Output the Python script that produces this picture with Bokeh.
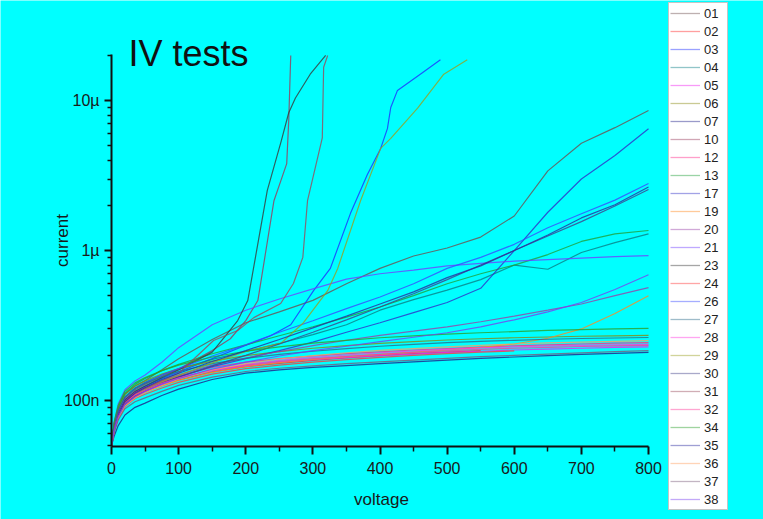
import math
from bokeh.plotting import figure
from bokeh.models import (Legend, LegendItem, Label, FixedTicker,
                          CustomJSTickFormatter, Range1d)
from bokeh.embed import file_html
from bokeh.resources import INLINE

nan = float("nan")

# ---------------- data (voltage in V, current in nA) ----------------
VOLTS = [0, 4, 10, 20, 35, 50, 75, 100, 150, 200, 250, 300, 350, 400, 450, 500, 550, 600, 650, 700, 750, 800]

i_01 = [50, 70, 90, 110, 125, 136, 160, 190, 255, 330, 390, 465, 600, 760, 920, 1040, 1230, 1700, 3400, 5200, 6600, 8600]
i_02 = [50, 64, 78, 94, 106, 114, 126, 137, 155, 168, 177, 185, 192, 199, 205, 210, 215, nan, nan, nan, nan, nan]
v_03 = [0, 4, 10, 20, 35, 50, 75, 100, 150, 207, 237, 267, 301, 326, 356, 381, 401, 411, 416, 426, 460, 490]
i_03 = [50, 65, 82, 100, 114, 124, 140, 155, 190, 240, 270, 320, 540, 760, 1770, 3200, 4800, 6500, 9000, 11700, 15000, 18700]
i_04 = [50, 68, 86, 106, 121, 132, 148, 162, 188, 212, 240, 275, 320, 400, 470, 545, 640, 800, 750, 970, 1130, 1290]
i_05 = [50, 67, 84, 102, 114, 122, 133, 143, 158, 170, 180, 187, 193, 199, 204, 209, 213, 217, 220, 223, 226, 228]
i_06 = [50, 70, 90, 110, 125, 135, 150, 163, 183, 199, 212, 223, 232, 240, 247, 253, 258, 262, 265, 268, 270, 272]
i_07 = [50, 58, 68, 80, 90, 96, 108, 119, 138, 152, 160, 166, 171, 176, 181, 186, 191, 195, 199, 203, 206, 209]
v_10 = [0, 4, 10, 20, 35, 50, 75, 100, 150, 177, 200, 218, 242, 261, 264, 267]
i_10 = [50, 68, 86, 104, 118, 128, 145, 162, 215, 258, 341, 464, 2150, 3800, 7360, 20000]
i_12 = [50, 66, 82, 99, 112, 121, 134, 146, 166, 180, 190, 198, 205, 211, 217, 222, 227, 231, 235, 238, 241, 243]
i_13 = [50, 70, 90, 112, 128, 140, 158, 174, 205, 235, 270, 310, 360, 420, 500, 600, 700, 800, 940, 1150, 1290, 1360]
i_17 = [50, 63, 78, 95, 108, 117, 131, 144, 168, 190, 215, 245, 285, 330, 385, 450, 560, 1000, 1800, 3000, 4300, 6500]
i_19 = [50, 63, 77, 93, 105, 113, 125, 136, 154, 168, 179, 188, 196, 203, 210, 217, 226, 238, 260, 300, 380, 500]
i_20 = [50, 66, 82, 99, 112, 121, 135, 148, 172, 192, 212, 232, 252, 272, 290, 310, 335, 365, 400, 440, 500, 566]
i_21 = [50, 72, 95, 118, 135, 148, 180, 225, 320, 400, 475, 555, 645, 700, 740, 790, 820, 850, 870, 890, 910, 926]
v_23 = [0, 4, 10, 20, 35, 50, 75, 100, 150, 170, 188, 203, 232, 253, 264, 274, 296, 319]
i_23 = [50, 66, 83, 101, 115, 125, 142, 160, 210, 271, 341, 464, 2510, 5410, 8300, 10400, 15000, 20000]
i_24 = [50, 63, 76, 91, 103, 110, 121, 132, 150, 163, 172, 180, 187, 194, 200, 205, 210, 214, nan, nan, nan, nan]
i_26 = [50, 66, 84, 104, 120, 131, 148, 163, 198, 235, 285, 340, 410, 490, 600, 760, 900, 1100, 1420, 1760, 2170, 2800]
i_27 = [50, 68, 86, 105, 120, 130, 144, 156, 176, 191, 203, 213, 222, 230, 237, 243, 248, 252, 256, 259, 261, 263]
i_28 = [50, 64, 79, 95, 107, 116, 129, 141, 160, 174, 185, 194, 201, 208, 214, 219, 224, 228, 231, 233, 235, 237]
v_29 = [0, 4, 10, 20, 35, 50, 75, 100, 150, 200, 252, 286, 322, 337, 371, 401, 416, 456, 495, 530]
i_29 = [50, 63, 79, 96, 109, 118, 133, 147, 178, 212, 240, 330, 540, 760, 2150, 4800, 5600, 8900, 15000, 18700]
i_30 = [50, 62, 77, 94, 107, 116, 130, 143, 170, 200, 238, 285, 345, 420, 515, 640, 800, 1000, 1250, 1560, 1980, 2550]
v_31 = [0, 4, 10, 20, 35, 50, 75, 100, 152, 188, 212, 252, 271, 285, 292, 314, 316, 322]
i_31 = [50, 64, 80, 97, 110, 120, 136, 152, 251, 293, 357, 443, 603, 900, 2150, 5640, 16700, 20000]
i_32 = [50, 65, 80, 97, 109, 117, 130, 141, 159, 172, 182, 190, 197, 203, 209, 214, 219, 223, 226, 229, 231, 233]
i_34 = [50, 72, 93, 115, 131, 142, 158, 172, 195, 213, 228, 241, 252, 262, 270, 277, 283, 288, 293, 297, 300, 303]
i_35 = [50, 64, 80, 98, 112, 122, 138, 152, 182, 215, 255, 305, 365, 440, 530, 660, 790, 1000, 1270, 1650, 2020, 2650]
i_36 = [50, 62, 76, 92, 104, 113, 126, 139, 160, 176, 189, 199, 208, 216, 222, 228, 233, 238, 242, 245, 248, 251]
i_37 = [50, 62, 74, 88, 98, 104, 115, 126, 143, 156, 164, 170, 176, 181, 186, 191, 196, 200, 204, 208, 212, 215]
i_38 = [50, 64, 78, 94, 106, 115, 128, 140, 162, 180, 198, 215, 230, 247, 264, 283, 310, 345, 390, 450, 550, 690]

LABELS = ["01", "02", "03", "04", "05", "06", "07", "10", "12", "13", "17", "19", "20", "21",
          "23", "24", "26", "27", "28", "29", "30", "31", "32", "34", "35", "36", "37", "38"]

SERIES = {
    "01": (VOLTS, i_01), "02": (VOLTS, i_02), "03": (v_03, i_03), "04": (VOLTS, i_04),
    "05": (VOLTS, i_05), "06": (VOLTS, i_06), "07": (VOLTS, i_07), "10": (v_10, i_10),
    "12": (VOLTS, i_12), "13": (VOLTS, i_13), "17": (VOLTS, i_17), "19": (VOLTS, i_19),
    "20": (VOLTS, i_20), "21": (VOLTS, i_21), "23": (v_23, i_23), "24": (VOLTS, i_24),
    "26": (VOLTS, i_26), "27": (VOLTS, i_27), "28": (VOLTS, i_28), "29": (v_29, i_29),
    "30": (VOLTS, i_30), "31": (v_31, i_31), "32": (VOLTS, i_32), "34": (VOLTS, i_34),
    "35": (VOLTS, i_35), "36": (VOLTS, i_36), "37": (VOLTS, i_37), "38": (VOLTS, i_38),
}

COLORS = {"01": "#6e5050", "02": "#ff2a2a", "03": "#1f2fff", "04": "#0a7f86", "05": "#f01ff0",
          "06": "#8a8a10", "07": "#20208a", "10": "#9a3a5a", "12": "#ff2a8a", "13": "#1fa03a",
          "17": "#3030c8", "19": "#ff8a1f", "20": "#9a40a8", "21": "#7040ff", "23": "#3a3a3a",
          "24": "#ff3a3a", "26": "#3a4aff", "27": "#2a6a8a", "28": "#ff3ae0", "29": "#9aa01f",
          "30": "#40408a", "31": "#9a4a5a", "32": "#ff3a9a", "34": "#2aa02a", "35": "#2a2aa0",
          "36": "#ffa060", "37": "#7a5a7a", "38": "#7a40f0"}

X_MAJOR = [0, 100, 200, 300, 400, 500, 600, 700, 800]
X_MINOR = [50, 150, 250, 350, 450, 550, 650, 750]
Y_MAJOR = [100, 1000, 10000]
Y_MINOR = [50, 60, 70, 80, 90, 200, 300, 400, 500, 600, 700, 800, 900,
           2000, 3000, 4000, 5000, 6000, 7000, 8000, 9000, 20000]
X_AXIS_SPAN = (0, 800)
Y_AXIS_SPAN = (49.3, 20300)

# ---------------- figure ----------------
FONT = "Liberation Sans"
CYAN = "#00ffff"
W, H = 763, 519

# The frame covers the whole canvas; the axes sit at fixed data locations
# (x axis from 111 to 648 px, y axis from 446 up to 54 px).
p = figure(width=W, height=H, y_axis_type="log",
           x_range=Range1d(-165.4, 971.3), y_range=Range1d(16.07, 46530),
           output_backend="svg", toolbar_location=None,
           min_border_left=0, min_border_right=0, min_border_top=0, min_border_bottom=0)
p.background_fill_color = CYAN
p.border_fill_color = CYAN
p.outline_line_color = None
p.xgrid.visible = False
p.ygrid.visible = False

renderers = {}
for lab in LABELS:
    v, i = SERIES[lab]
    renderers[lab] = p.line(v, i, line_color=COLORS[lab], line_alpha=0.8, line_width=1.2)

p.xaxis.fixed_location = Y_AXIS_SPAN[0]
p.yaxis.fixed_location = X_AXIS_SPAN[0]
p.xaxis.ticker = FixedTicker(ticks=X_MAJOR, minor_ticks=X_MINOR)
p.xaxis.bounds = X_AXIS_SPAN
p.yaxis.ticker = FixedTicker(ticks=Y_MAJOR, minor_ticks=Y_MINOR)
p.yaxis.bounds = Y_AXIS_SPAN
p.yaxis.formatter = CustomJSTickFormatter(
    code="const m = {100: '100n', 1000: '1\u00b5', 10000: '10\u00b5'}; return m[Math.round(tick)] || '';")

for ax in (p.xaxis, p.yaxis):
    ax.axis_line_width = 2
    ax.axis_line_color = "#111111"
    ax.major_tick_line_width = 2
    ax.minor_tick_line_width = 1.5
    ax.major_tick_line_color = "#111111"
    ax.minor_tick_line_color = "#111111"
    ax.major_tick_in = 0
    ax.minor_tick_in = 0
    ax.major_label_text_font = FONT
    ax.major_label_text_font_size = "16px"
    ax.major_label_text_color = "#1a1a1a"

p.xaxis.major_tick_out = 8
p.xaxis.minor_tick_out = 5
p.xaxis.major_label_standoff = 7
p.yaxis.major_tick_out = 7
p.yaxis.minor_tick_out = 4
p.yaxis.major_label_standoff = 5

# texts (screen units from the canvas bottom-left)
p.add_layout(Label(x=128, y=466, x_units="screen", y_units="screen", text="IV tests",
                   text_font=FONT, text_font_size="36px", text_color="#111111",
                   text_baseline="alphabetic", text_align="left"), "center")
p.add_layout(Label(x=62, y=279, x_units="screen", y_units="screen", text="current",
                   angle=math.pi / 2, text_font=FONT, text_font_size="17px", text_color="#1a1a1a",
                   text_baseline="middle", text_align="center"), "center")
p.add_layout(Label(x=381, y=20, x_units="screen", y_units="screen", text="voltage",
                   text_font=FONT, text_font_size="17px", text_color="#1a1a1a",
                   text_baseline="middle", text_align="center"), "center")

# legend swatches (pale, like the reference key)
items = []
for lab in LABELS:
    r = p.line([nan], [nan], line_color=COLORS[lab], line_alpha=0.45, line_width=1.3)
    items.append(LegendItem(label=lab, renderers=[r]))

legend = Legend(items=items, location=(668, 9), orientation="vertical",
                background_fill_color="white", background_fill_alpha=1.0,
                border_line_color="#8a8a8a", border_line_width=1,
                label_text_font=FONT, label_text_font_size="13px", label_text_color="#222222",
                glyph_width=30, glyph_height=18, label_height=18, label_width=22,
                label_standoff=4, spacing=0, padding=1, margin=0)
p.add_layout(legend, "center")

open("out.html", "w", encoding="utf-8").write(file_html(p, INLINE, "IV tests"))
